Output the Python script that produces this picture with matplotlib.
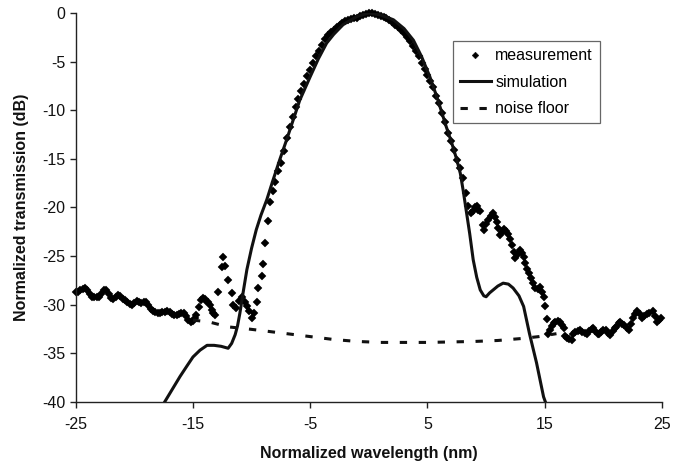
import matplotlib
matplotlib.use("Agg")
import matplotlib.pyplot as plt

plt.rcParams['font.family'] = ['Liberation Sans', 'DejaVu Sans']

# ---- data ----
meas_x = [
    -25.0, -24.8, -24.6, -24.4, -24.2, -24.0, -23.8, -23.6, -23.4, -23.2,
    -23.0, -22.8, -22.6, -22.4, -22.2, -22.0, -21.8, -21.6, -21.4, -21.2,
    -21.0, -20.8, -20.6, -20.4, -20.2, -20.0, -19.8, -19.6, -19.4, -19.2,
    -19.0, -18.8, -18.6, -18.4, -18.2, -18.0, -17.8, -17.6, -17.4, -17.2,
    -17.0, -16.8, -16.6, -16.4, -16.2, -16.0, -15.8, -15.6, -15.4, -15.2,
    -15.0, -14.85, -14.7, -14.5, -14.3, -14.15, -14.0, -13.85, -13.7, -13.55,
    -13.4, -13.25, -13.1, -12.85, -12.55, -12.4, -12.3, -12.0, -11.7, -11.55,
    -11.3, -11.05, -10.85, -10.6, -10.4, -10.2, -10.0, -9.8, -9.57, -9.43,
    -9.14, -9.0, -8.86, -8.6, -8.45, -8.2,
    -8.0, -7.75, -7.5, -7.25, -7.0, -6.75, -6.5, -6.25, -6.0, -5.75,
    -5.5, -5.25, -5.0, -4.75, -4.5, -4.25, -4.0, -3.75, -3.5, -3.25,
    -3.0, -2.75, -2.5, -2.25, -2.0, -1.75, -1.5, -1.25, -1.0, -0.75,
    -0.5, -0.25, 0.0, 0.25, 0.5, 0.75, 1.0, 1.25, 1.5, 1.75,
    2.0, 2.25, 2.5, 2.75, 3.0, 3.25, 3.5, 3.75, 4.0, 4.25,
    4.5, 4.75, 5.0, 5.25, 5.5, 5.75, 6.0, 6.25, 6.5, 6.75,
    7.0, 7.25, 7.5, 7.75, 8.0,
    8.3, 8.45, 8.7, 8.9, 9.05, 9.2, 9.35, 9.5, 9.75, 9.85,
    10.0, 10.2, 10.4, 10.6, 10.75, 10.9, 11.05, 11.2, 11.35, 11.5,
    11.7, 11.9, 12.05, 12.2, 12.35, 12.5, 12.7, 12.9, 13.05, 13.2,
    13.35, 13.5, 13.65, 13.8, 14.0, 14.2, 14.4, 14.6, 14.75, 14.9,
    15.05, 15.2, 15.3, 15.45, 15.6, 15.75, 15.9, 16.1, 16.3, 16.45,
    16.6, 16.75, 16.9, 17.1, 17.3, 17.45, 17.6, 17.8, 18.0, 18.2,
    18.4, 18.6, 18.8, 19.0, 19.1, 19.3, 19.5, 19.6, 19.8, 20.0,
    20.2, 20.4, 20.6, 20.8, 21.0, 21.1, 21.3, 21.4, 21.6, 21.8,
    22.0, 22.2, 22.35, 22.5, 22.7, 22.9, 23.1, 23.3, 23.5, 23.7,
    23.9, 24.2, 24.4, 24.6, 24.75, 24.9,
]
meas_y = [
    -28.7, -28.7, -28.5, -28.4, -28.3, -28.5, -28.9, -29.2, -29.2, -29.2,
    -29.2, -28.9, -28.5, -28.5, -28.9, -29.3, -29.4, -29.2, -29.0, -29.1,
    -29.4, -29.5, -29.7, -29.9, -30.0, -29.8, -29.6, -29.7, -29.8, -29.7,
    -29.7, -30.0, -30.5, -30.7, -30.8, -30.9, -30.9, -30.8, -30.8, -30.7,
    -30.8, -31.0, -31.1, -31.1, -31.0, -30.9, -30.9, -31.2, -31.6, -31.8,
    -31.7, -31.4, -31.1, -30.3, -29.5, -29.3, -29.4, -29.6, -29.7, -30.1,
    -30.6, -30.9, -31.1, -28.7, -26.1, -25.1, -26.0, -27.5, -28.8, -30.0,
    -30.4, -29.6, -29.2, -29.7, -30.2, -30.7, -31.4, -30.9, -29.7, -28.3,
    -27.1, -25.8, -23.7, -21.4, -19.4, -18.3,
    -17.4, -16.3, -15.4, -14.2, -12.9, -11.7, -10.7, -9.7, -8.9, -8.0,
    -7.3, -6.5, -5.9, -5.1, -4.4, -3.9, -3.3, -2.7, -2.3, -2.0,
    -1.7, -1.4, -1.2, -1.0, -0.85, -0.7, -0.6, -0.55, -0.5, -0.35,
    -0.25, -0.15, -0.05, 0.0, -0.1, -0.2, -0.35, -0.45, -0.55, -0.75,
    -0.95, -1.2, -1.45, -1.8, -2.1, -2.5, -2.9, -3.4, -3.9, -4.4,
    -5.1, -5.8, -6.4, -7.0, -7.6, -8.5, -9.3, -10.3, -11.2, -12.3,
    -13.2, -14.1, -15.1, -16.0, -17.0,
    -18.5, -19.9, -20.6, -20.4, -20.0, -19.9, -20.3, -20.4, -21.8, -22.3,
    -21.7, -21.3, -20.9, -20.6, -21.0, -21.5, -22.1, -22.8, -22.5, -22.2,
    -22.4, -22.7, -23.3, -23.9, -24.6, -25.2, -24.8, -24.4, -24.7, -25.1,
    -25.7, -26.3, -26.8, -27.3, -27.8, -28.3, -28.4, -28.2, -28.7, -29.2,
    -30.2, -31.5, -33.0, -32.6, -32.2, -31.9, -31.8, -31.7, -31.8, -32.1,
    -32.4, -33.2, -33.4, -33.5, -33.6, -33.0, -32.8, -32.7, -32.6, -32.8,
    -32.9, -33.0, -32.7, -32.5, -32.4, -32.7, -33.0, -33.0, -32.8, -32.6,
    -32.6, -32.9, -33.1, -32.7, -32.4, -32.3, -31.9, -31.8, -32.0, -32.1,
    -32.4, -32.6, -32.0, -31.4, -31.0, -30.7, -31.0, -31.4, -31.2, -31.0,
    -30.9, -30.7, -31.2, -31.8, -31.6, -31.4,
]

sim_x = [-17.4, -16.7, -16.1, -15.5, -15.0, -14.4, -13.8, -13.2, -12.6, -12.0,
         -11.7, -11.4, -11.2, -11.0, -10.7, -10.4, -10.0, -9.6, -9.2, -8.7,
         -8.2, -7.6, -7.0, -6.45, -5.9, -5.0, -4.3, -3.6, -3.0, -2.2,
         -1.0, 0.0, 1.0, 2.1, 3.0, 3.8, 4.5, 5.2, 5.9, 6.6,
         7.1, 7.5, 7.8, 8.05, 8.3, 8.6, 8.9, 9.2, 9.5, 9.8,
         10.0, 10.3, 10.6, 11.0, 11.45, 11.9, 12.3, 12.8, 13.2, 13.7,
         14.3, 14.9, 15.05]
sim_y = [-40.0, -38.6, -37.4, -36.3, -35.4, -34.7, -34.2, -34.2, -34.3, -34.5,
         -34.0, -33.1, -32.2, -30.9, -28.6, -26.4, -24.2, -22.3, -20.8, -19.2,
         -17.3, -15.1, -13.0, -11.0, -9.0, -6.55, -4.7, -3.1, -2.2, -1.2,
         -0.35, 0.0, -0.2, -0.7, -1.6, -2.8, -4.5, -6.55, -9.0, -11.7,
         -13.5, -15.1, -16.5, -18.3, -20.3, -22.7, -25.4, -27.2, -28.5, -29.1,
         -29.2, -28.8, -28.5, -28.1, -27.8, -27.9, -28.3, -29.1, -30.2, -33.0,
         -36.0, -39.5, -40.0]

noise_x = [-15.0, -13.6, -12.0, -10.4, -9.0, -7.0, -5.0, -3.0, -1.0, 1.0,
           3.0, 5.0, 7.0, 9.0, 11.0, 13.0, 14.5, 16.0]
noise_y = [-31.6, -31.8, -32.3, -32.5, -32.7, -33.0, -33.3, -33.6, -33.8, -33.9,
           -33.9, -33.9, -33.85, -33.8, -33.7, -33.5, -33.3, -33.0]

x_ticks = [-25, -15, -5, 5, 15, 25]
y_ticks = [0, -5, -10, -15, -20, -25, -30, -35, -40]

W, H = 684, 465
fig = plt.figure(figsize=(W / 100, H / 100), dpi=100)
ax_l, ax_r, ax_t, ax_b = 75.7, 662.0, 13.0, 401.7
ax = fig.add_axes([ax_l / W, 1 - ax_b / H, (ax_r - ax_l) / W, (ax_b - ax_t) / H])

ax.plot(meas_x, meas_y, ls='none', marker='D', ms=4.0, mew=0.3, mec='#000000',
        color='#000000', label='measurement', zorder=2, clip_on=False)
ax.plot(sim_x, sim_y, '-', color='#111111', lw=2.2, label='simulation', zorder=3,
        solid_joinstyle='round')
ax.plot(noise_x, noise_y, color='#111111', lw=2.2, ls=(0, (2.4, 3.8)),
        label='noise floor', zorder=3)

ax.set_xlim(-25, 25)
ax.set_ylim(-40, 0)
ax.set_xticks(x_ticks)
ax.set_yticks(y_ticks)
ax.set_xticklabels([str(v) for v in x_ticks])
ax.set_yticklabels([str(v) for v in y_ticks])

for s in ['top', 'right']:
    ax.spines[s].set_visible(False)
for s in ['left', 'bottom']:
    ax.spines[s].set_color('#222222')
    ax.spines[s].set_linewidth(1.0)

ax.tick_params(axis='both', direction='out', length=4, width=1.0, color='#222222',
               labelsize=11.5, labelcolor='#111111')
ax.tick_params(axis='x', pad=7)
ax.tick_params(axis='y', pad=3.5)

ax.set_xlabel('Normalized wavelength (nm)', fontsize=11.5, fontweight='bold', color='#111111')
ax.set_ylabel('Normalized transmission (dB)', fontsize=11.5, fontweight='bold', color='#111111')
ax.xaxis.label.set_va('center')
ax.yaxis.label.set_va('center')
ax.xaxis.set_label_coords(0.5, (ax_b - 453) / (ax_b - ax_t))
ax.yaxis.set_label_coords((21.5 - ax_l) / (ax_r - ax_l), 0.5)

leg = ax.legend(loc='upper left', bbox_to_anchor=(453 / W, 1 - 41 / H),
                bbox_transform=fig.transFigure, borderaxespad=0,
                fontsize=11.5, frameon=True, fancybox=False, shadow=False,
                handlelength=1.9, handletextpad=0.3, labelspacing=0.72,
                borderpad=0.45, markerscale=0.85)
leg.get_frame().set_edgecolor('#666666')
leg.get_frame().set_linewidth(0.9)
leg.get_frame().set_alpha(1)

fig.savefig('out.png', dpi=100)
